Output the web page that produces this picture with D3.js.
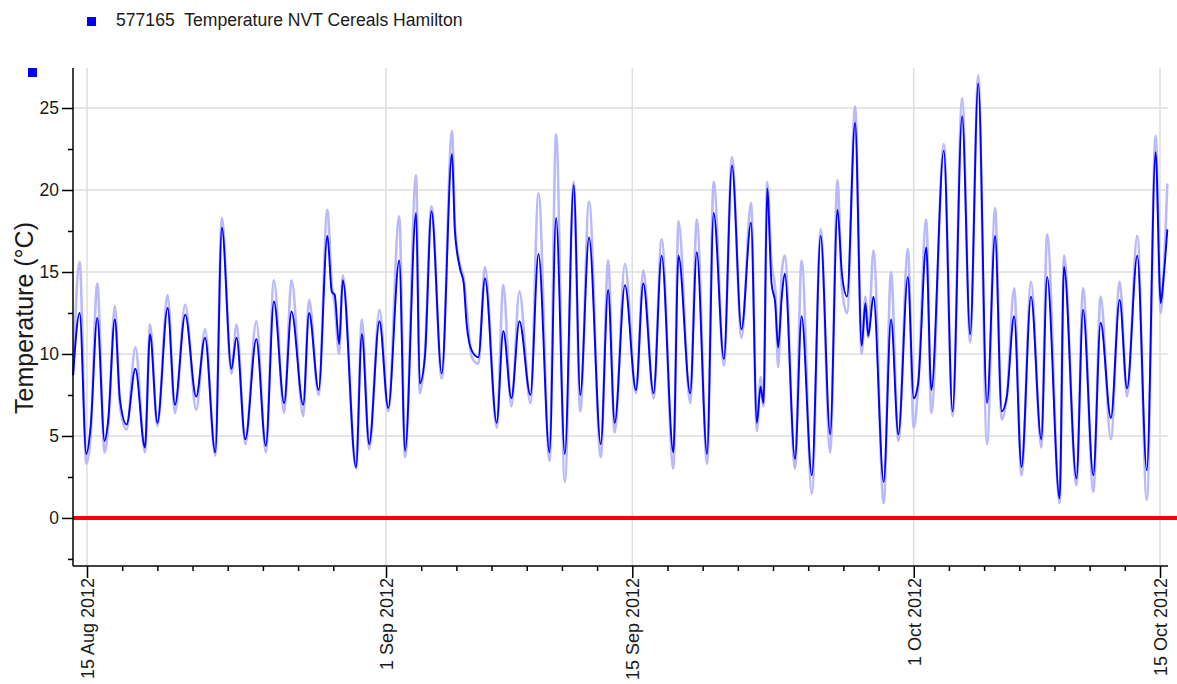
<!DOCTYPE html>
<html>
<head>
<meta charset="utf-8">
<script src="https://cdn.jsdelivr.net/npm/d3@7"></script>
<style>
  html, body { margin: 0; padding: 0; background: #fff; }
  svg { display: block; }
  text { font-family: "Liberation Sans", Arial, sans-serif; fill: #1a1a1a; }
</style>
</head>
<body>
<svg id="chart" width="1177" height="684"></svg>
<script>
// ---------------- DATA ----------------
const seriesName = "577165  Temperature NVT Cereals Hamilton";
const yTitle = "Temperature (°C)";

const times = [
"2012-08-14T05","2012-08-14T14","2012-08-14T23","2012-08-15T05","2012-08-15T14",
"2012-08-16T00","2012-08-16T05","2012-08-16T14","2012-08-16T21","2012-08-17T06",
"2012-08-17T18","2012-08-18T07","2012-08-18T14","2012-08-19T00","2012-08-19T14",
"2012-08-20T00","2012-08-20T14","2012-08-21T05","2012-08-21T17","2012-08-22T07",
"2012-08-22T16","2012-08-23T05","2012-08-23T12","2012-08-24T00","2012-08-24T15",
"2012-08-25T04","2012-08-25T15","2012-08-26T05","2012-08-26T15","2012-08-27T07",
"2012-08-27T15","2012-08-28T04","2012-08-28T16","2012-08-28T22","2012-08-29T02",
"2012-08-29T08","2012-08-29T13","2012-08-30T07","2012-08-30T15","2012-08-31T01",
"2012-08-31T15","2012-09-01T03","2012-09-01T18","2012-09-02T02","2012-09-02T17",
"2012-09-02T22","2012-09-03T05","2012-09-03T14","2012-09-04T04","2012-09-04T18",
"2012-09-04T22","2012-09-05T05","2012-09-05T10","2012-09-05T14","2012-09-05T21",
"2012-09-06T06","2012-09-06T15","2012-09-07T07","2012-09-07T16","2012-09-08T03",
"2012-09-08T14","2012-09-09T05","2012-09-09T16","2012-09-10T07","2012-09-10T16",
"2012-09-11T04","2012-09-11T16","2012-09-12T01","2012-09-12T13","2012-09-13T05",
"2012-09-13T15","2012-09-14T00","2012-09-14T14","2012-09-15T05","2012-09-15T15",
"2012-09-16T05","2012-09-16T16","2012-09-17T08","2012-09-17T15","2012-09-18T07",
"2012-09-18T16","2012-09-19T06","2012-09-19T15","2012-09-20T05","2012-09-20T16",
"2012-09-21T05","2012-09-21T18","2012-09-22T02","2012-09-22T07","2012-09-22T11",
"2012-09-22T16","2012-09-22T22","2012-09-23T03","2012-09-23T07","2012-09-23T12",
"2012-09-23T16","2012-09-24T06","2012-09-24T15","2012-09-25T05","2012-09-25T17",
"2012-09-26T06","2012-09-26T16","2012-09-26T22","2012-09-27T05","2012-09-27T16",
"2012-09-28T01","2012-09-28T06","2012-09-28T10","2012-09-28T17","2012-09-29T07",
"2012-09-29T17","2012-09-30T03","2012-09-30T16","2012-10-01T00","2012-10-01T06",
"2012-10-01T17","2012-10-02T00","2012-10-02T17","2012-10-03T05","2012-10-03T18",
"2012-10-04T05","2012-10-04T16","2012-10-05T04","2012-10-05T15","2012-10-06T00",
"2012-10-06T07","2012-10-06T17","2012-10-07T03","2012-10-07T16","2012-10-08T06",
"2012-10-08T14","2012-10-09T07","2012-10-09T13","2012-10-10T06","2012-10-10T15",
"2012-10-11T05","2012-10-11T15","2012-10-12T05","2012-10-12T17","2012-10-13T03",
"2012-10-13T17","2012-10-14T06","2012-10-14T18","2012-10-15T01","2012-10-15T05",
"2012-10-15T10"
];

// main (dark blue) temperature trace
const temps = [
8.7,12.5,3.9,5.6,12.2,
4.7,6.0,12.1,7.2,5.7,
9.1,4.3,11.2,5.8,12.8,
6.9,12.4,7.4,11.0,4.0,
17.7,9.1,11.0,4.8,10.9,
4.4,13.2,7.0,12.6,6.9,
12.5,7.8,17.2,13.8,13.6,
10.6,14.5,3.1,11.2,4.5,
12.0,6.7,15.7,4.1,18.6,
8.2,9.8,18.7,8.8,22.2,
17.5,15.2,14.3,11.8,10.2,
9.8,14.6,5.8,11.4,7.3,
12.0,7.5,16.1,4.0,18.3,
3.9,20.3,7.5,17.1,4.5,
13.9,5.8,14.2,7.8,14.3,
7.6,16.0,4.0,16.0,7.6,
16.2,3.9,18.6,9.7,21.5,
11.5,18.0,5.8,8.0,7.0,
20.1,14.3,13.1,10.4,13.5,
14.9,3.6,12.3,2.6,17.2,
5.1,18.8,14.9,13.5,24.1,
10.5,13.1,11.1,13.5,2.2,
12.1,5.1,14.7,7.3,8.2,
16.5,7.8,22.4,6.5,24.5,
11.2,26.5,7.0,17.2,6.5,
7.4,12.3,3.1,13.5,4.8,
14.7,1.2,15.3,2.4,12.7,
2.6,11.9,6.1,13.3,7.9,
16.0,2.9,22.3,13.1,14.7,
17.6
];

// light blue trace (raw readings, reaching beyond the main trace)
const tempsRaw = [
8.7,15.6,3.3,5.0,14.3,
4.0,5.6,12.9,6.8,5.4,
10.4,4.0,11.8,5.6,13.6,
6.4,13.0,6.6,11.5,3.8,
18.3,8.8,11.8,4.5,12.0,
4.0,14.5,6.4,14.5,6.2,
13.3,7.5,18.8,14.2,13.0,
10.0,14.8,3.0,12.1,4.2,
12.7,6.5,18.4,3.7,20.9,
7.6,10.0,19.0,8.5,23.6,
17.8,15.4,14.6,12.8,9.8,
9.4,15.3,5.5,14.2,6.8,
13.8,7.0,19.8,3.5,23.4,
2.2,20.5,6.5,19.3,3.7,
15.7,5.2,15.5,7.6,15.1,
7.3,17.0,3.0,18.1,7.0,
18.2,3.3,20.5,9.3,22.0,
11.0,19.2,5.3,8.6,6.8,
20.5,15.5,14.0,9.2,15.0,
16.0,3.0,15.7,1.5,17.6,
4.0,20.6,14.0,12.5,25.1,
10.0,13.5,11.0,16.3,0.9,
15.0,4.7,16.4,5.5,8.0,
18.2,6.4,22.8,6.2,25.6,
10.7,27.0,4.5,18.9,6.0,
7.4,14.0,2.6,14.4,4.3,
17.3,0.9,16.0,2.0,14.0,
1.6,13.5,4.8,14.4,7.4,
17.2,1.1,23.3,12.5,15.0,
20.4
];

const xDomain = ["2012-08-14T04:54", "2012-10-15T10:55"];
const yDomain = [-2.93, 27.44];
const majorDates = ["2012-08-15", "2012-09-01", "2012-09-15", "2012-10-01", "2012-10-15"];
const majorLabels = ["15 Aug 2012", "1 Sep 2012", "15 Sep 2012", "1 Oct 2012", "15 Oct 2012"];
const minorDates = [
"2012-08-17","2012-08-19","2012-08-21","2012-08-23","2012-08-25","2012-08-27","2012-08-29",
"2012-09-03","2012-09-05","2012-09-07","2012-09-09","2012-09-11","2012-09-13",
"2012-09-17","2012-09-19","2012-09-21","2012-09-23","2012-09-25","2012-09-27","2012-09-29",
"2012-10-03","2012-10-05","2012-10-07","2012-10-09","2012-10-11","2012-10-13"
];
const yMajor = [0, 5, 10, 15, 20, 25];
const yMinor = [-2.5, 2.5, 7.5, 12.5, 17.5, 22.5];
const refLine = 0;

// ---------------- CHART ----------------
const parseT = d3.timeParse("%Y-%m-%dT%H");
const parseM = d3.timeParse("%Y-%m-%dT%H:%M");
const parseD = d3.timeParse("%Y-%m-%d");
const FONT = '"Liberation Sans", Arial, sans-serif';

const L = 73, R = 1168, T = 68, B = 566;
const svg = d3.select("#chart");

const x = d3.scaleTime().domain(xDomain.map(parseM)).range([L, R]);
const y = d3.scaleLinear().domain(yDomain).range([B, T]);

const data = times.map((t, i) => ({ t: parseT(t), v: temps[i], r: tempsRaw[i] }));

// gridlines
const grid = svg.append("g");
grid.selectAll("line.h").data(yMajor.filter(v => v !== refLine)).join("line")
  .attr("x1", L).attr("x2", R)
  .attr("y1", d => y(d)).attr("y2", d => y(d))
  .attr("stroke", "#dedede").attr("stroke-width", 1.5);
grid.selectAll("line.v").data(majorDates.map(parseD)).join("line")
  .attr("x1", d => x(d)).attr("x2", d => x(d))
  .attr("y1", T).attr("y2", B)
  .attr("stroke", "#dedede").attr("stroke-width", 1.5);

// series
const lineRaw = d3.line().curve(d3.curveMonotoneX).x(d => x(d.t)).y(d => y(d.r));
const lineMain = d3.line().curve(d3.curveMonotoneX).x(d => x(d.t)).y(d => y(d.v));
svg.append("path").datum(data).attr("d", lineRaw)
  .attr("fill", "none").attr("stroke", "#b9b9fb").attr("stroke-width", 2.6)
  .attr("stroke-linejoin", "round");
svg.append("path").datum(data).attr("d", lineMain)
  .attr("fill", "none").attr("stroke", "#0000ff").attr("stroke-width", 1.9)
  .attr("stroke-linejoin", "round");

// reference line at 0
svg.append("line")
  .attr("x1", L).attr("x2", 1177)
  .attr("y1", y(refLine)).attr("y2", y(refLine))
  .attr("stroke", "#ff0000").attr("stroke-width", 4);

// y axis
const yAxisMajor = d3.axisLeft(y).tickValues(yMajor).tickSize(11).tickPadding(3).tickFormat(d3.format("d"));
const yAxisMinor = d3.axisLeft(y).tickValues(yMinor).tickSize(5).tickFormat("");
const gy = svg.append("g").attr("transform", `translate(${L},0)`).call(yAxisMajor);
const gyMinor = svg.append("g").attr("transform", `translate(${L},0)`).call(yAxisMinor);
gyMinor.select(".domain").remove();
gy.select(".domain").attr("d", `M0,${T}V${B}`).attr("stroke", "#000").attr("stroke-width", 1.5);
gy.selectAll(".tick text").attr("font-size", 17.5).attr("fill", "#1a1a1a").attr("font-family", FONT);
svg.selectAll(".tick line").attr("stroke", "#000").attr("stroke-width", 1.5);

// x axis
const gxMinor = svg.append("g").attr("transform", `translate(0,${B})`)
  .call(d3.axisBottom(x).tickValues(minorDates.map(parseD)).tickSize(5).tickFormat(""));
gxMinor.select(".domain").remove();
gxMinor.selectAll(".tick line").attr("stroke", "#000").attr("stroke-width", 1.5);
const gx = svg.append("g").attr("transform", `translate(0,${B})`)
  .call(d3.axisBottom(x).tickValues(majorDates.map(parseD)).tickSize(12)
    .tickFormat((d, i) => majorLabels[i]));
gx.select(".domain").attr("d", `M${L},0H${R}`).attr("stroke", "#000").attr("stroke-width", 1.5);
gx.selectAll(".tick line").attr("stroke", "#000").attr("stroke-width", 1.5);
gx.selectAll(".tick text")
  .attr("font-size", 18).attr("fill", "#1a1a1a").attr("font-family", FONT)
  .attr("text-anchor", "end")
  .attr("transform", "rotate(-90)")
  .attr("x", -12).attr("y", 0).attr("dy", "0.36em");

// y title
svg.append("text")
  .attr("transform", "translate(33,318) rotate(-90)")
  .attr("text-anchor", "middle")
  .attr("font-size", 25)
  .text(yTitle);

// legend
svg.append("rect").attr("x", 87).attr("y", 17).attr("width", 9).attr("height", 9).attr("fill", "#0000ff");
svg.append("text").attr("x", 116).attr("y", 26).attr("font-size", 17.6)
  .style("white-space", "pre").text(seriesName);
svg.append("rect").attr("x", 28).attr("y", 68).attr("width", 9).attr("height", 9).attr("fill", "#0000ff");
</script>
</body>
</html>
